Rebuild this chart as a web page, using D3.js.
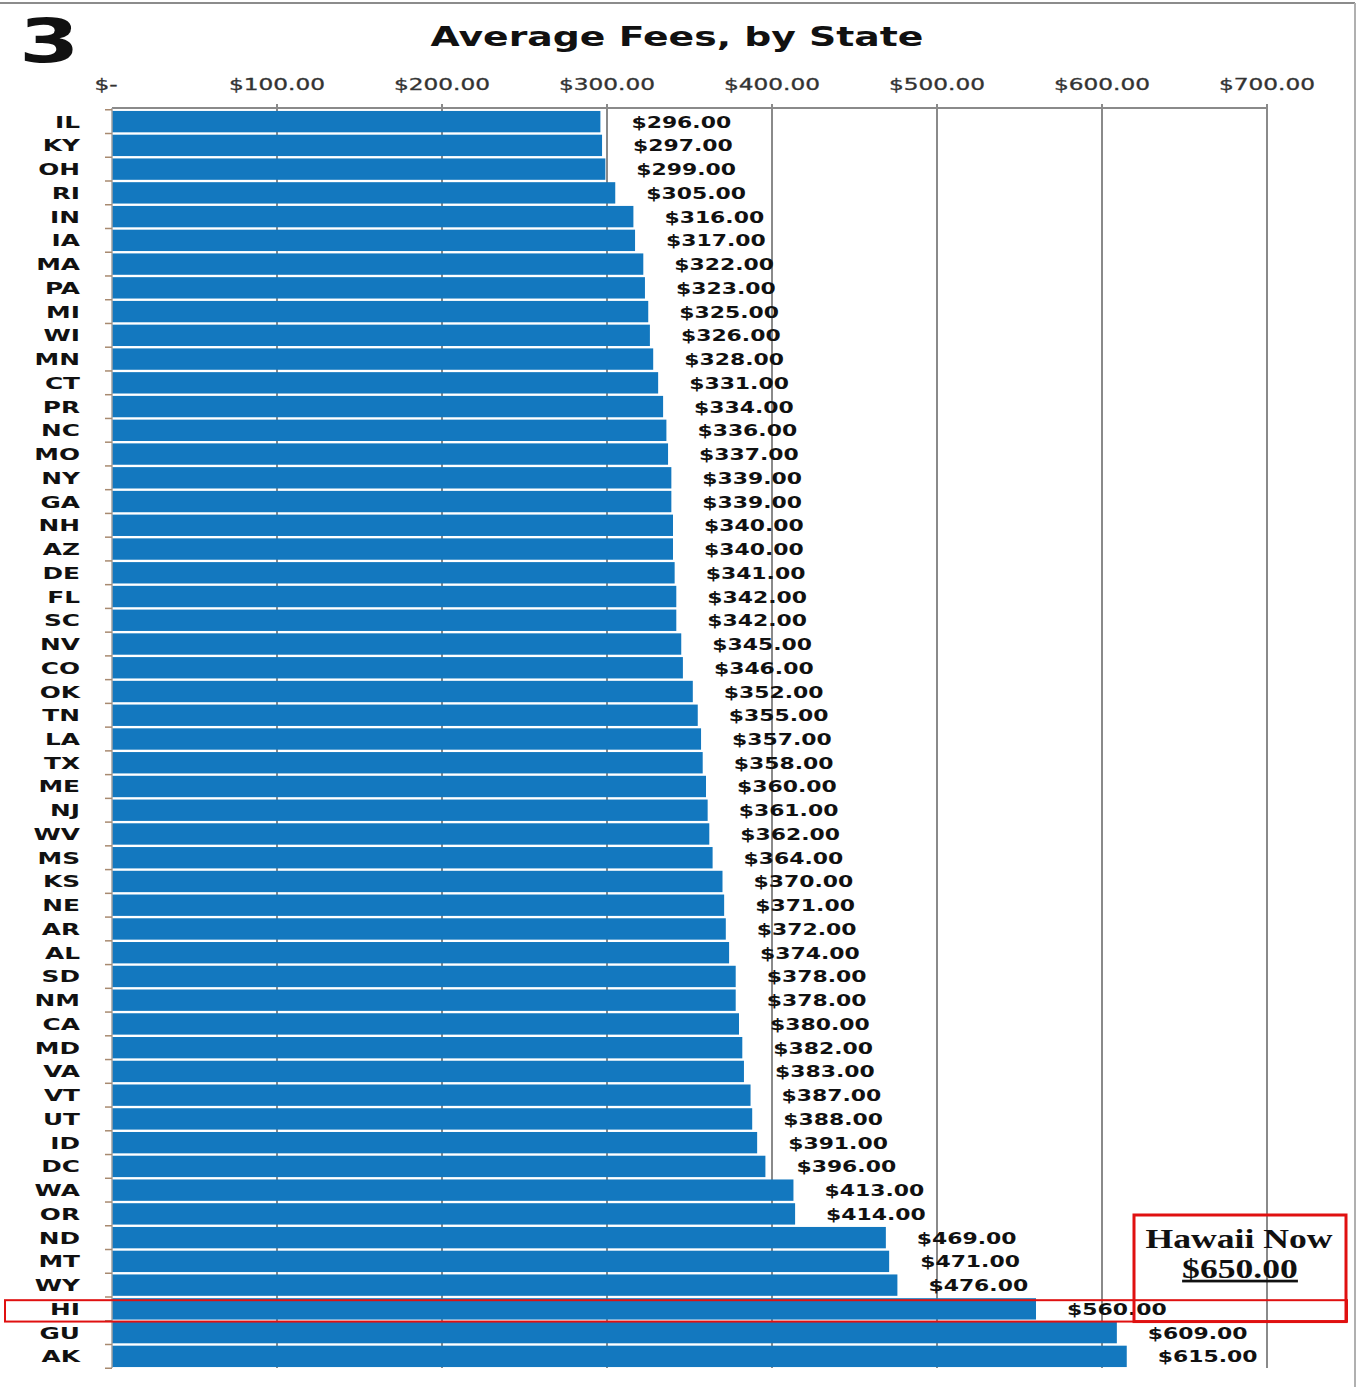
<!DOCTYPE html>
<html>
<head>
<meta charset="utf-8">
<script src="https://cdn.jsdelivr.net/npm/d3@7/dist/d3.min.js"></script>
<style>
  html, body { margin: 0; padding: 0; background: #fff; }
  svg { display: block; }
</style>
</head>
<body>
<svg id="chart" width="1358" height="1387"></svg>
<script>
// Average fee per state / territory, lowest to highest
const states = ["IL","KY","OH","RI","IN","IA","MA","PA","MI","WI","MN","CT","PR","NC","MO","NY","GA","NH","AZ","DE","FL","SC","NV","CO","OK","TN","LA","TX","ME","NJ","WV","MS","KS","NE","AR","AL","SD","NM","CA","MD","VA","VT","UT","ID","DC","WA","OR","ND","MT","WY","HI","GU","AK"];
const fees = [296,297,299,305,316,317,322,323,325,326,328,331,334,336,337,339,339,340,340,341,342,342,345,346,352,355,357,358,360,361,362,364,370,371,372,374,378,378,380,382,383,387,388,391,396,413,414,469,471,476,560,609,615];
const xTicks = [0,100,200,300,400,500,600,700];
const highlightState = "HI";
const hawaiiNow = 650;
const chartTitle = "Average Fees, by State";
const slideNumber = "3";

const svg = d3.select("#chart");
const money = v => v === 0 ? "$-" : "$" + d3.format(",.2f")(v);

const x = d3.scaleLinear().domain([0, 700]).range([112, 1267]);
const y = d3.scaleBand().domain(states).range([110, 1368]).paddingInner(0.1).paddingOuter(0.04);

// helper: text drawn with a horizontal stretch
function stretched(sel, sx) {
  return sel.attr("transform", function () {
    const tx = +this.getAttribute("data-x"), ty = +this.getAttribute("data-y");
    return `translate(${tx},${ty}) scale(${sx},1)`;
  });
}

// outer frame
svg.append("line").attr("x1", 0).attr("x2", 1355).attr("y1", 3).attr("y2", 3)
  .attr("stroke", "#8c8c8c").attr("stroke-width", 2);
svg.append("line").attr("x1", 1355).attr("x2", 1355).attr("y1", 3).attr("y2", 1387)
  .attr("stroke", "#b0b0b0").attr("stroke-width", 2);

// slide number
svg.append("text").attr("data-x", 19).attr("data-y", 62)
  .attr("font-family", "DejaVu Sans").attr("font-weight", "bold").attr("font-size", 60)
  .attr("fill", "#111").text(slideNumber).call(stretched, 1.45);

// title
svg.append("text").attr("data-x", 677).attr("data-y", 46)
  .attr("text-anchor", "middle")
  .attr("font-family", "DejaVu Sans").attr("font-weight", "bold").attr("font-size", 27)
  .attr("fill", "#111").text(chartTitle).call(stretched, 1.4);

// vertical gridlines
svg.append("g").selectAll("line").data(xTicks.slice(1)).join("line")
  .attr("x1", d => x(d)).attr("x2", d => x(d))
  .attr("y1", 104).attr("y2", 1368)
  .attr("stroke", "#8a8a8a").attr("stroke-width", 2);

// top axis line
svg.append("line").attr("x1", x(0)).attr("x2", x(700)).attr("y1", 108).attr("y2", 108)
  .attr("stroke", "#8a8a8a").attr("stroke-width", 2);

// top tick labels
svg.append("g").selectAll("text").data(xTicks).join("text")
  .attr("data-x", d => d === 0 ? x(d) - 6 : x(d)).attr("data-y", 90)
  .attr("text-anchor", "middle")
  .attr("font-family", "DejaVu Sans").attr("font-size", 15)
  .attr("stroke", "#333").attr("stroke-width", 0.3)
  .attr("fill", "#333").text(money).call(stretched, 1.55);

// bars
svg.append("g").selectAll("rect").data(states).join("rect")
  .attr("x", x(0)).attr("y", d => y(d))
  .attr("width", (d, i) => x(fees[i]) - x(0))
  .attr("height", y.bandwidth())
  .attr("fill", "#1378bf");

// left axis with ticks at band boundaries
const step = y.step();
const bounds = d3.range(states.length + 1).map(i => y(states[0]) - step * y.paddingInner() / 2 + i * step);
svg.append("line").attr("x1", x(0)).attr("x2", x(0)).attr("y1", 108).attr("y2", 1368)
  .attr("stroke", "#a0a0a0").attr("stroke-width", 1.5);
svg.append("g").selectAll("line").data(bounds).join("line")
  .attr("x1", x(0) - 7).attr("x2", x(0)).attr("y1", d => d).attr("y2", d => d)
  .attr("stroke", "#a88a70").attr("stroke-width", 1.5);

// category labels
svg.append("g").selectAll("text").data(states).join("text")
  .attr("data-x", 80).attr("data-y", d => y(d) + y.bandwidth() / 2 + 6)
  .attr("text-anchor", "end")
  .attr("font-family", "DejaVu Sans").attr("font-weight", "bold").attr("font-size", 16)
  .attr("fill", "#111").text(d => d).call(stretched, 1.55);

// value labels
svg.append("g").selectAll("text").data(states).join("text")
  .attr("data-x", (d, i) => x(fees[i]) + 31).attr("data-y", d => y(d) + y.bandwidth() / 2 + 6)
  .attr("font-family", "DejaVu Sans").attr("font-weight", "bold").attr("font-size", 16)
  .attr("fill", "#111").text((d, i) => money(fees[i])).call(stretched, 1.37);

// highlighted row
svg.append("rect")
  .attr("x", 5).attr("y", y(highlightState) + 2)
  .attr("width", 1342).attr("height", y.bandwidth())
  .attr("fill", "none").attr("stroke", "#e01010").attr("stroke-width", 2);

// current Hawaii fee callout
const boxBottom = y(highlightState) + 2 + y.bandwidth();
svg.append("rect")
  .attr("x", 1134).attr("y", 1215).attr("width", 212).attr("height", boxBottom - 1215)
  .attr("fill", "none").attr("stroke", "#e01010").attr("stroke-width", 3);
svg.append("text").attr("data-x", 1239).attr("data-y", 1248).attr("text-anchor", "middle")
  .attr("font-family", "Liberation Serif").attr("font-weight", "bold").attr("font-size", 27)
  .attr("fill", "#111").text("Hawaii Now").call(stretched, 1.32);
svg.append("text").attr("data-x", 1240).attr("data-y", 1278).attr("text-anchor", "middle")
  .attr("font-family", "Liberation Serif").attr("font-weight", "bold").attr("font-size", 27)
  .attr("text-decoration", "underline")
  .attr("fill", "#111").text(money(hawaiiNow)).call(stretched, 1.32);
</script>
</body>
</html>
